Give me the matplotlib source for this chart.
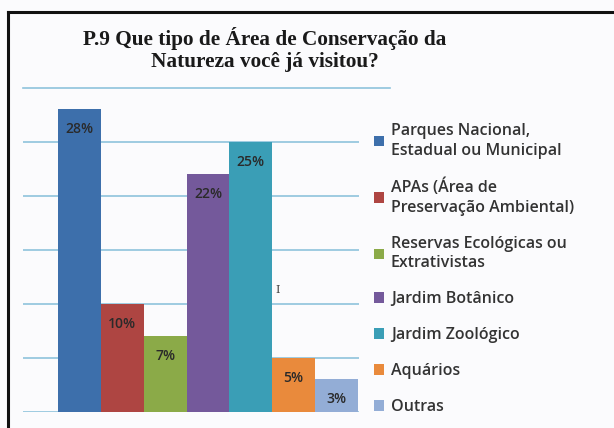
import matplotlib
matplotlib.use("Agg")
import matplotlib.pyplot as plt
from matplotlib.patches import Patch
from matplotlib.lines import Line2D

categories = [
    "Parques Nacional,\nEstadual ou Municipal",
    "APAs (Área de\nPreservação Ambiental)",
    "Reservas Ecológicas ou\nExtrativistas",
    "Jardim Botânico",
    "Jardim Zoológico",
    "Aquários",
    "Outras",
]
values = [28, 10, 7, 22, 25, 5, 3]
labels = ["28%", "10%", "7%", "22%", "25%", "5%", "3%"]
colors = ["#3D6FAB", "#AE4542", "#8BAA48", "#74599B", "#3A9EB6", "#E98A3C", "#93ADD6"]
gridvals = [0, 5, 10, 15, 20, 25]
title = "P.9 Que tipo de Área de Conservação da\nNatureza você já visitou?"

W, H = 614, 428
fig = plt.figure(figsize=(W / 100, H / 100), dpi=100)
fig.patch.set_facecolor("#FBFBFD")

def fx(px):
    return px / W

def fy(py):
    return 1 - py / H

# chart frame (top and left edges visible)
fig.add_artist(Line2D([fx(8), fx(8)], [fy(12), 0], color="#111111", lw=2.2))
fig.add_artist(Line2D([fx(8), 1], [fy(12), fy(12)], color="#111111", lw=2.2))

left, right = 23, 359
base, top = 411.7, 87.7
ax = fig.add_axes([fx(left), fy(base), fx(right) - fx(left), fy(top) - fy(base)])
ax.set_facecolor("none")
ax.set_ylim(0, 30)
ax.set_xlim(-1.317, 6.523)

gc = "#8EC3DC"
for g in gridvals:
    ax.axhline(g, color=gc, lw=1.2, zorder=0)
ax.axhline(30, xmin=0, xmax=(390 - left) / (right - left), color=gc, lw=1.2, clip_on=False, zorder=0)

xs = list(range(len(values)))
bars = ax.bar(xs, values, width=1.0, color=colors, zorder=2)
for x, v, lab in zip(xs, values, labels):
    ax.annotate(lab, (x, v), xytext=(0, -20), textcoords="offset pixels",
                ha="center", va="center", fontsize=10, fontweight="semibold", color="#2a2a2a",
                family="Open Sans", zorder=3)

for s in ax.spines.values():
    s.set_visible(False)
ax.set_xticks([])
ax.set_yticks([])

# stray cursor mark present in the original
fig.text(fx(278), fy(290), "I", family="DejaVu Serif", fontsize=8, color="#444444", ha="center", va="center")

fig.text(fx(265), fy(49.5), title, ha="center", va="center", family="Liberation Serif",
         fontweight="bold", fontsize=15.3, color="#1a1a1a", linespacing=1.08)

handles = [Patch(facecolor=c, edgecolor="none") for c in colors]
leg = fig.legend(handles, categories, loc="upper left", bbox_to_anchor=(fx(374), fy(123)),
                 frameon=False, prop={"family": "Open Sans", "size": 11.5, "weight": "semibold"},
                 handlelength=0.6, handleheight=0.6, handletextpad=0.45, labelspacing=1.25,
                 borderaxespad=0, borderpad=0)
for t in leg.get_texts():
    t.set_color("#333333")
    t.set_linespacing(1.3)

fig.savefig("out.png", dpi=100, facecolor=fig.get_facecolor())
